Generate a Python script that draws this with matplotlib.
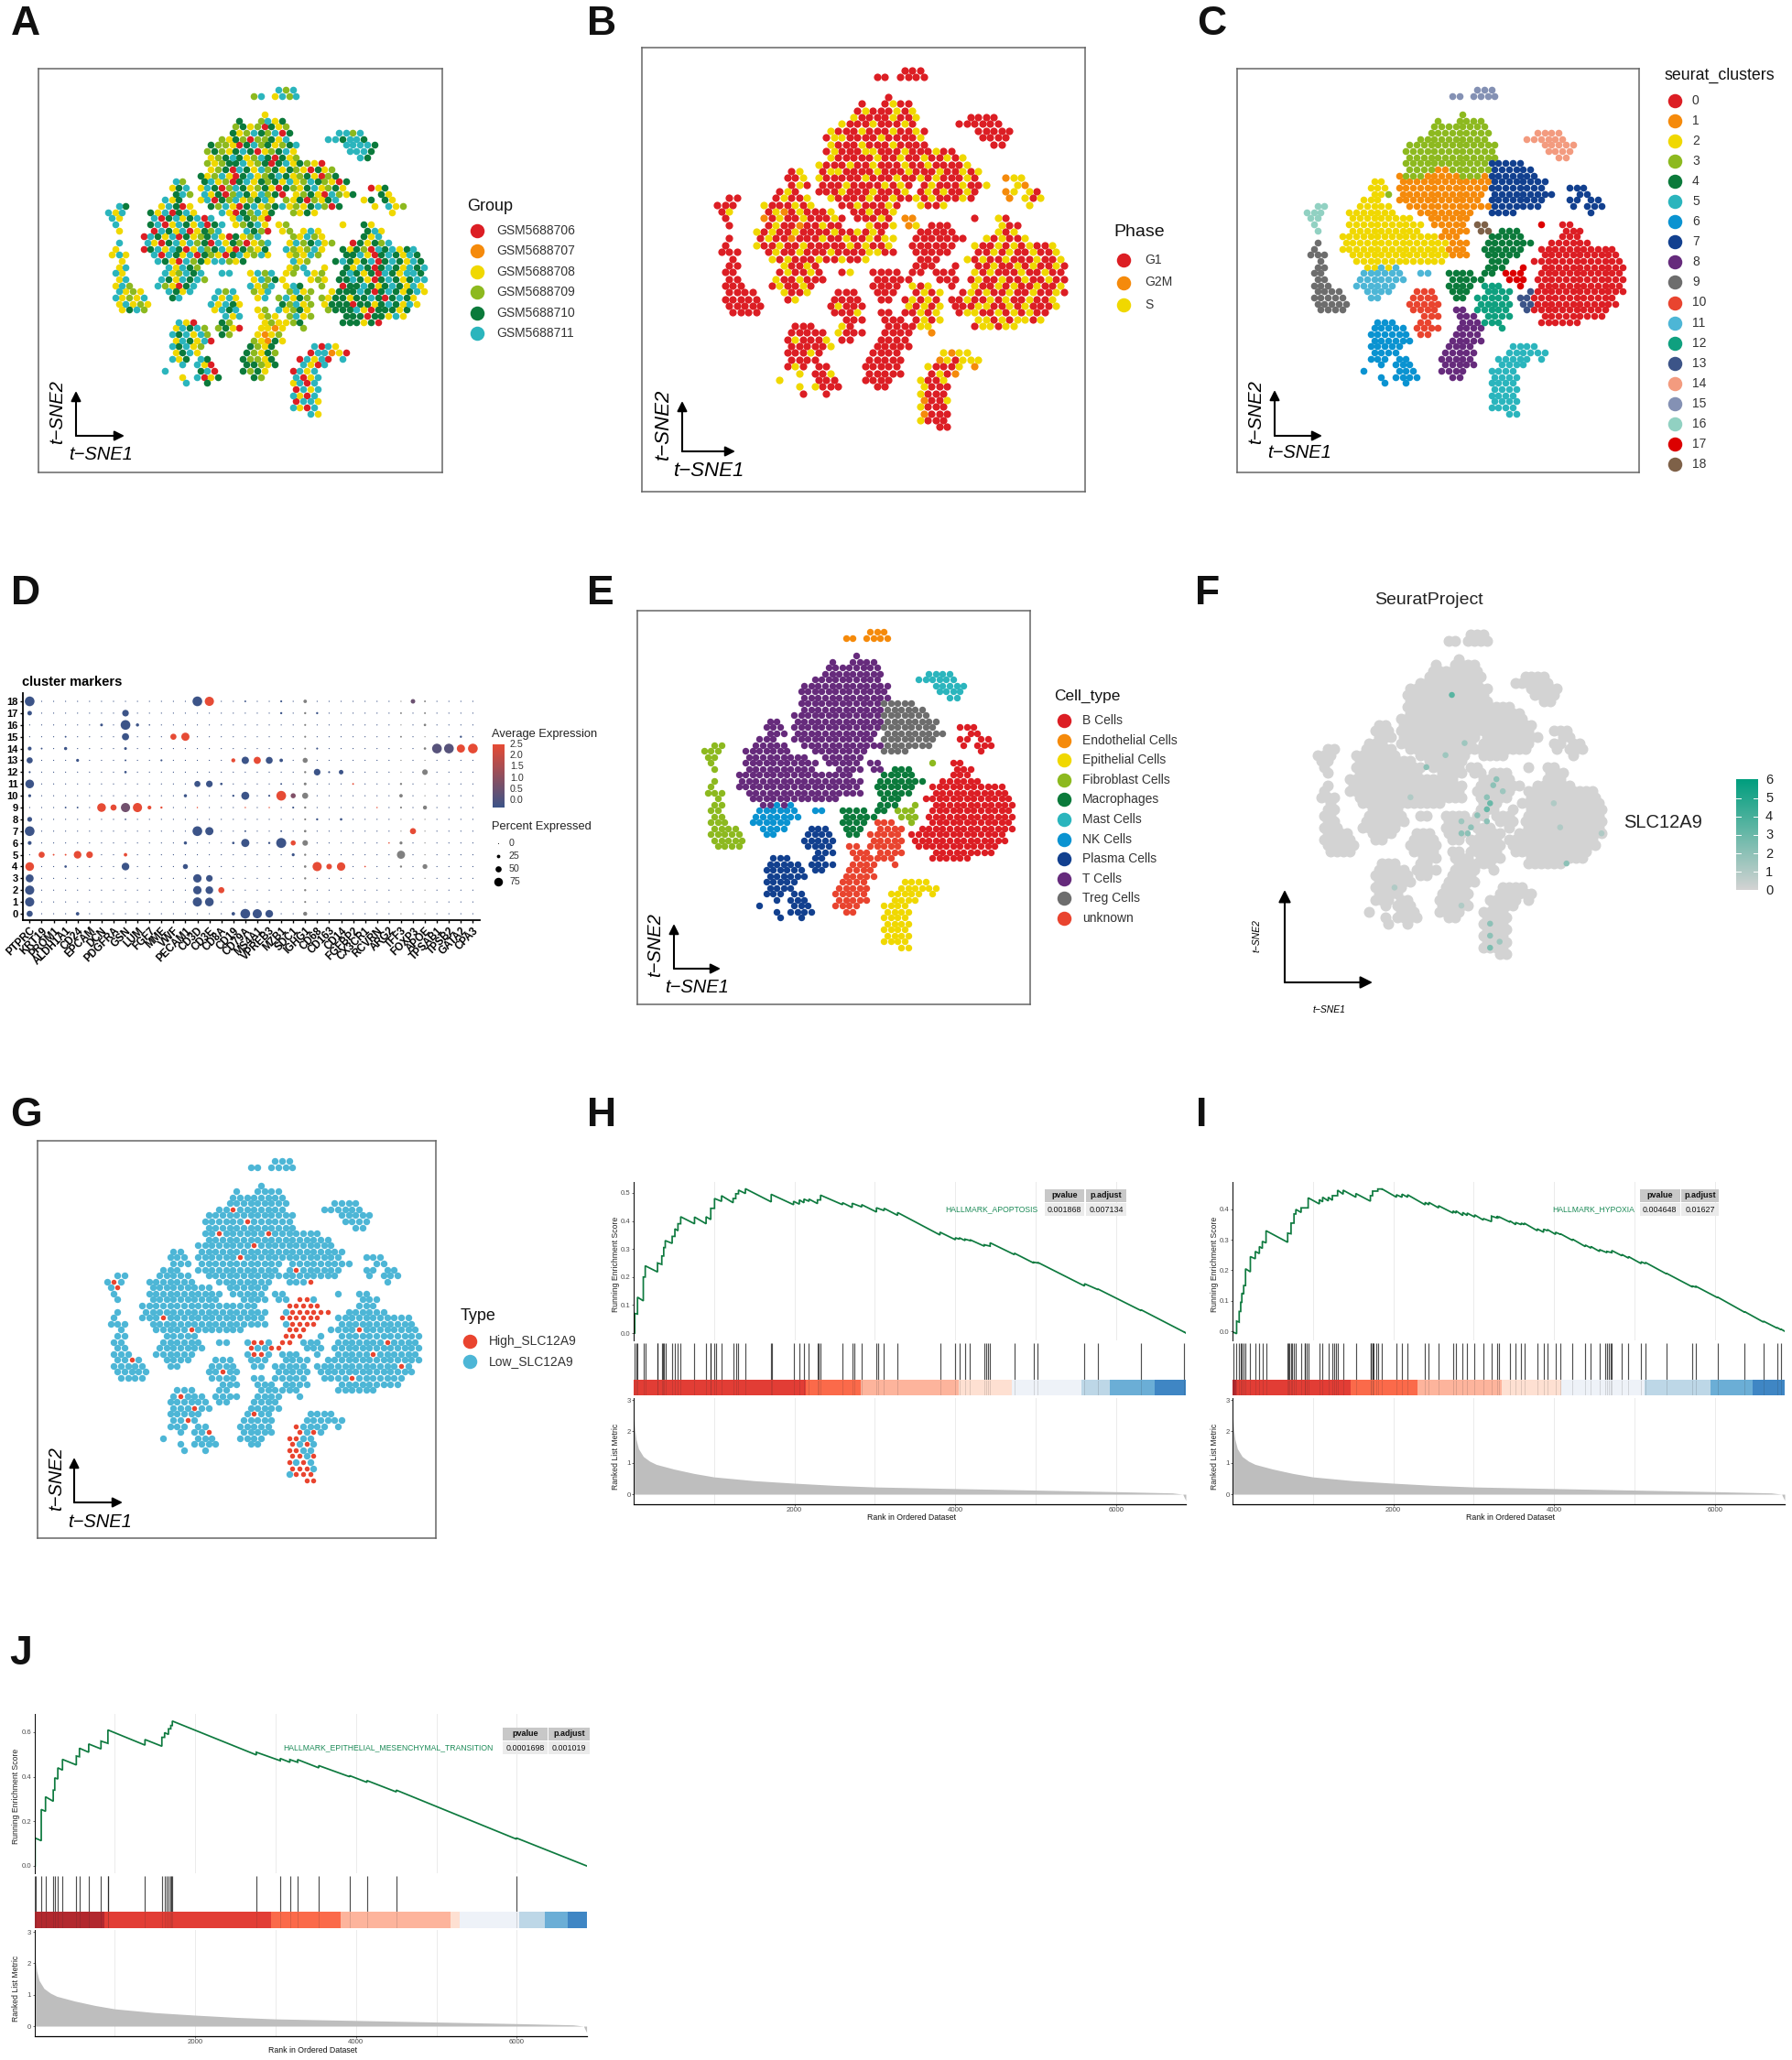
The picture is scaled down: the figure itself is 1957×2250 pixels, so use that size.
import numpy as np
import matplotlib
matplotlib.use("Agg")
import matplotlib.pyplot as plt
from matplotlib.colors import LinearSegmentedColormap
from matplotlib.patches import Rectangle

plt.rcParams["font.family"] = ["Liberation Sans", "DejaVu Sans"]

W, H = 1958, 2250

# t-SNE cells: the thousands of single cells can't be read off the picture,
# so these maps are a coarse hand reading, one character per patch of cells
# 0-9 a-i = seurat cluster, j = 2nd part of cluster 17, k = 2nd part of cluster 7
CLUSTER_MAP = [
    "........................fff",
    "....................ff.ffff",
    "",
    "",
    "......................3",
    "..................3..3333",
    "..................33333333",
    ".................333333333......eeee",
    "................3333333333.....eeeeee",
    "..............3333333333333......eeeee",
    "..............3333333333333.......eeee",
    "..............3333333333333........ee",
    "..............33333333333377777",
    "..............333311333333777777",
    ".............13331111133317777777",
    ".........22..111111111111177777777",
    ".........222.111111111111177777777...kkk",
    ".........223.111111111111.777777777...kk",
    "........222..111111111111.77777777...kk.kk",
    ".gg....22222..1111111111117777777....k.kkk",
    "ggg...2222222...11111111..7777..........k",
    "gg....222222222..111111",
    ".g....22222222222.11111.ii.......h..00",
    ".g....2222222222...1111.ii.444......000",
    ".....22222222222222111....44444.....000",
    ".9...222222222222222111..4444444..000000",
    ".9...222222222222222111..444444..00000000000",
    "999...22222222222222111..44444...00000000000",
    "..9....2222222222222......444...0000000000000",
    ".99.....22b2b............444..j..000000000000",
    ".99.....bbbbbb..bb..4444.44.jjj..000000000000",
    ".99....bbbbbbb......44444...jjj.0000000000000",
    ".999...bbbbbb.......4444.ccc..j..000000000000",
    ".9999...bbbb...aaa..444..cccc..d0000000000000",
    ".99999...bb....aaaa..44.ccccc.dd000000000000",
    ".99999........aaaaa.....ccccc.dd000000000000",
    "..9999.........aaaa..88.ccccc..d00000000000",
    "................aaa..888.cccc....000000000",
    "..........666...aa....888ccc.....000000",
    ".........66666.aaaa..8888..c",
    ".........666666.aa...8888",
    ".........666666.....88888",
    ".........66666......8888.....5555",
    ".........6666......88888....555555",
    ".........666.66....88888...55555.5",
    "..........6.666....88888...5555",
    "........6....666...8888...5555",
    "..........6.6666....88....5555",
    "...........6..6...........5555",
    "..........................5555",
    "..........................5555",
    "..........................5555",
    "..........................5555",
    "............................55",
]

# same layout, sample per patch: r o y l g t = the six GSM samples
GROUP_MAP = [
    (24, "tlt"), (20, "lt.ytlt"), (0, ""), (0, ""), (22, "y"), (18, "g..ltyg"), (18, "lgylrgyl"),
    (17, "gyltgltrg......ttlt"), (16, "lyglrllgyt.....ttgttg"),
    (14, "glly" + "rgtl" + "gylg" + "t......ttttg"),
    (14, "lglygtgrylgty.......tttg"), (14, "ylgtgyltgrgyl........tg"),
    (14, "lylggtylgrgtyglyr"), (14, "ylgrtgytlgyglyrgyl"), (13, "gyltyrgtylgtgylgyrlg"),
    (9, "tl..gtylrgtyglgytyltglyrg"), (9, "ygt.ytgrltgylgyrglygtylgy...ryg"),
    (9, "gtl.tygrltgytlgr.ylgyrtlyg...gy"), (8, "tyg..ytrgltylgty.lygrlygt...yg.gy"),
    (0, ".tg....ytgry..gltyrgtylgtylygtlrg....y.tyl"),
    (0, "tyt...gytrgty...tyrgltyg..lygy..........y"), (0, "ty....trgtygtrt..ytglyr"),
    (0, ".t....gtrytgytrgt.ylgty.yl.......y..gy"), (0, ".y....rtgytryglt...tglr.yl.yty......gty"),
    (5, "rtgytrgylgtyrgylt....lytly.....gyt"),
    (0, ".t...tyrgtytlgrtyglrylt..ytlgtyl..rgyglt"),
    (0, ".y...rgtytgrytlgtyrglyg..tlylty..gyglrtgtygt"),
    (0, "yty...trtgytrglyrgtylty..ylytl...ggtyrgtgytg"),
    (0, "..y....tgyrtlgyttlyg......tyl...gtgygtrgtgytg"),
    (0, ".yt.....tytgl............ylt..y..gytgrgtgytgt"),
    (0, ".ty.....tyltgt..tt..ytlt.yl.tyl..gtgygrtgyttg"),
    (0, ".yt....tgytgtl......ytlgy...yly.ggtgyrgtgygtt"),
    (0, ".ytl...tlyrgt.......tylt.ytg..l..rggtgygtgyty"),
    (0, ".tyly...tgyt...tlt..lyt..ltyl..ygggtgrgtgygty"),
    (0, ".tylyt...gt....tyty..yt.ltygl.lyggyggtgrgtgy"),
    (0, ".ytyly........tytgy.....gltyl.yg" + "ggrggygtgyty"),
    (0, "..ygtl.........ytgt..yl.tylgy..lgggtyrgggyg"),
    (16, "tyt..yly.ltyl....gggrggyty"), (10, "tyr...gl....ylyylg.....gggygr"),
    (9, "ytgtl.lgyr..yyoy..l"), (9, "tgtytl.gl...yoyl"), (9, "ytgytr.....lyogy"),
    (9, "tgtyl......glyg.....trty"), (9, "ygty......glygl....rttoyr"),
    (9, "tyg.tg....gllyg...rtytr.t"), (10, "t.tyr....gglyg...tyrt"),
    (8, "t....gtr...glgy...rtyt"), (10, "y.tryg....gl....tryt"),
    (11, "t..g...........ytrt"), (26, "rtyt"), (26, "tyrt"), (26, "rtty"), (26, "tyrt"), (28, "ty"),
]

# same layout, cell cycle phase per patch: r = G1, o = G2M, y = S
PHASE_MAP = [
    (24, "rrr"), (20, "rr.rrrr"), (0, ""), (0, ""), (22, "r"), (18, "r..ryrr"), (18, "ryrrryry"),
    (17, "yrrrryrry......rrrr"), (16, "yrrryrrryr.....rrrrrr"),
    (14, "yrrryrrryrryr......rrrrr"), (14, "ryyrrrryrrrry.......rrrr"), (14, "yrrryrrryrrrr........rr"),
    (14, "ryrrryyrrryrrryrr"), (14, "yrrrrryrryrryrryry"), (13, "yrrryrryrrryrryrrrry"),
    (9, "ry..ryyrrrryrrryrrryrryry"), (9, "rry.yrrrrryrrryrryryrrryr...oyy"),
    (9, "ryr.rrryrrrryryr.ryrrryrry...yo"), (8, "ryr..rrryrrryrrry.ryryrryr...oy.yr"),
    (0, ".rr....ryrry..yrrrryrryrryryrrryr....o.yry"),
    (0, "rrr...yrrryry...rryrrryr..yrry..........y"), (0, "ry....ryoryrrry..rryrry"),
    (0, ".r....oryrryrrryr.rrryr.oo.......r..yr"), (0, ".r....ryrrorryrr...yrry.oy.rrr......yrr"),
    (5, "yryrryrrrryrryryr....rrrrr.....yry"),
    (0, ".r...ryrrorrryrryrryryy..rrrrrrr..yryrry"),
    (0, ".r...yrryrryrrrrryryrry..rrrrrr..yrryryryrry"),
    (0, "rrr...ryrryrrryrrrryyrr..rrrrr...rryryrryrry"),
    (0, "..r....yryrrryrryrry......rrr...yryrryrrryrry"),
    (0, ".rr.....yrryr............rrr..r..rryrryryrryr"),
    (0, ".rr.....ryrryr..ry..rrrr.rr.rrr..yryrrryrryrr"),
    (0, ".rr....yrryrrr......rrrrr...rrr.ryrryrryrryrr"),
    (0, ".rrr...ryrryr.......rrrr.yry..r..yrryryrryrry"),
    (0, ".rrrr...yrry...rrr..rrr..ryry..ryryrryrryrryr"),
    (0, ".rrrrr...ry....rrrr..rr.ryryr.rryrryryrryrry"),
    (0, ".rrrrr........ryrrr.....yryry.rrryyrryryrrry"),
    (0, "..rrrr.........rrry..rr.rryry..ryyrryryryrr"),
    (16, "rrr..rrr.ryry....yyryryyry"), (10, "rrr...yr....rrrryy.....ryyryy"),
    (9, "rrrrr.yrrr..rrrr..o"), (9, "ryrrry.rr...rrrr"), (9, "rrrrry.....rrrrr"),
    (9, "rrryr......rrrr.....yoyy"), (9, "rrrr......rrrrr....oyryyy"),
    (9, "ryr.rr....rrrrr...yrrry.o"), (10, "y.rry....rrrrr...ryro"),
    (8, "y....rrr...rrrr...yrry"), (10, "y.yrrr....rr....yrrr"),
    (11, "r..r...........yrrr"), (26, "orry"), (26, "yrrr"), (26, "orrr"), (26, "yrrr"), (28, "rr"),
]

# patches that read as High_SLC12A9 in panel G, (row, col) in the maps
HIGH_CELLS = [
    (23, 27), (23, 28), (24, 26), (24, 27), (24, 28), (24, 29), (24, 30), (25, 26), (25, 27), (25, 28),
    (25, 29), (25, 30), (25, 31), (26, 25), (26, 26), (26, 27), (26, 28), (26, 29), (26, 30), (27, 26),
    (27, 27), (27, 28), (27, 29), (28, 26), (28, 27), (28, 28), (29, 25), (29, 26), (29, 27), (30, 25),
    (30, 26), (30, 21), (30, 22), (31, 20), (31, 23), (31, 24), (32, 21), (32, 22), (44, 27), (45, 27),
    (45, 29), (46, 26), (46, 27), (47, 26), (47, 28), (48, 26), (48, 27), (49, 26), (49, 27), (49, 29),
    (50, 26), (50, 28), (51, 26), (51, 27), (51, 28), (52, 27), (52, 28), (52, 29), (53, 28), (53, 29),
    (8, 18), (10, 20), (12, 16), (12, 23), (14, 21), (16, 19), (18, 27), (20, 29), (28, 36), (30, 40),
    (32, 38), (34, 42), (36, 35), (26, 8), (28, 12), (33, 3), (20, 1), (21, 1), (39, 10), (41, 12),
    (43, 11), (45, 14), (35, 16), (42, 21),
]

# patches with SLC12A9 signal in panel F, (row, col, expression)
FEATURE_CELLS = [
    (24, 28, 2), (25, 27, 2), (26, 29, 1.5), (27, 26, 2), (28, 27, 3), (29, 26, 3), (30, 25, 2), (31, 26, 2),
    (32, 24, 2), (33, 23, 2), (31, 22, 1.5), (33, 22, 2), (10, 21, 3.5), (18, 23, 1.5), (20, 20, 1.5),
    (22, 17, 2), (27, 14, 1), (48, 27, 2), (50, 27, 2), (52, 27, 2.5), (51, 28, 1.5), (32, 38, 1),
    (33, 44, 1), (28, 37, 1), (38, 39, 2), (42, 12, 1), (45, 22, 1),
]

CLUSTER_COLORS = ["#DC1E24", "#F58A0B", "#F0D800", "#8DB91F", "#0B7A3B", "#2BB5BD", "#0A93D1", "#12408F",
                  "#662B7C", "#6D6D6D", "#E9442F", "#4DB6D6", "#0FA07F", "#3C5488", "#F39B7F", "#8491B4",
                  "#91D1C2", "#DC0000", "#7E6148"]
CLUSTER_CODES = "0123456789abcdefghi"
CLUSTER_ALIASES = {"j": "h", "k": "7"}

GROUP_NAMES = ["GSM5688706", "GSM5688707", "GSM5688708", "GSM5688709", "GSM5688710", "GSM5688711"]
GROUP_CODES = "roylgt"
GROUP_COLORS = ["#DC1E24", "#F58A0B", "#F0D800", "#8DB91F", "#0B7A3B", "#2BB5BD"]

PHASE_NAMES = ["G1", "G2M", "S"]
PHASE_CODES = "roy"
PHASE_COLORS = ["#DC1E24", "#F58A0B", "#F0D800"]

CELL_TYPES = ["B Cells", "Endothelial Cells", "Epithelial Cells", "Fibroblast Cells", "Macrophages", "Mast Cells",
              "NK Cells", "Plasma Cells", "T Cells", "Treg Cells", "unknown"]
CELL_TYPE_COLORS = ["#DC1E24", "#F58A0B", "#F0D800", "#8DB91F", "#0B7A3B", "#2BB5BD", "#0A93D1", "#12408F",
                    "#662B7C", "#6D6D6D", "#E9442F"]
# cluster code -> index in CELL_TYPES
CELL_TYPE_OF = {"0": 0, "k": 0, "d": 0, "f": 1, "5": 2, "g": 3, "9": 3, "h": 3, "j": 3, "4": 4, "e": 5, "b": 6,
                "6": 7, "a": 7, "1": 8, "2": 8, "3": 8, "i": 8, "7": 9, "8": 10, "c": 10}

TYPE_NAMES = ["High_SLC12A9", "Low_SLC12A9"]
TYPE_COLORS = ["#E9442F", "#4DB6D6"]

# dot plot
GENES = ["PTPRC", "KRT19", "PROM1", "ALDH1A1", "CD24", "EPCAM", "DCN", "PDGFRA", "GSN", "LUM", "FGF7", "MME", "VWF",
         "PECAM1", "CD3D", "CD3E", "CD8A", "CD19", "CD79A", "MS4A1", "VPREB3", "MZB1", "SDC1", "IGHG1", "CD68",
         "CD163", "CD14", "FGFBP2", "CX3CR1", "RCVRN", "ARG2", "TFF3", "FOXP3", "APOE", "TPSAB1", "TPSB2", "GATA2",
         "CPA3"]
# cluster: {gene: (percent expressed, average expression)}, anything else is a tiny dot
DOT_VALUES = {
    18: {"PTPRC": (85, 0), "CD3D": (85, 0), "CD3E": (80, 2.5), "FOXP3": (35, 0.7), "MZB1": (10, 0), "CD79A": (8, 0)},
    17: {"PTPRC": (35, 0), "GSN": (55, 0), "MZB1": (12, 0), "CD68": (12, 0)},
    16: {"DCN": (18, 0), "GSN": (85, 0), "LUM": (22, 0), "FGF7": (5, 0)},
    15: {"GSN": (60, 0), "VWF": (50, 2.5), "PECAM1": (70, 2.5), "GATA2": (12, 0), "ALDH1A1": (8, 0)},
    14: {"PTPRC": (28, 0), "KRT19": (8, 0), "ALDH1A1": (22, 0), "GSN": (18, 0), "CD68": (10, 0), "TPSAB1": (85, 0.4),
         "TPSB2": (85, 0.4), "GATA2": (70, 2.5), "CPA3": (85, 2.5)},
    13: {"PTPRC": (50, 0), "CD24": (20, 0), "GSN": (8, 0), "MME": (10, 0), "CD19": (30, 2.5), "CD79A": (62, 0),
         "MS4A1": (60, 2.5), "VPREB3": (58, 0), "MZB1": (25, 0)},
    12: {"PTPRC": (10, 0), "GSN": (15, 0), "CD68": (55, 0), "CD163": (10, 0), "CD14": (35, 0)},
    11: {"PTPRC": (75, 0), "CD3D": (50, 0), "CD3E": (55, 0), "CD8A": (15, 0), "FGFBP2": (8, 2.5), "MZB1": (8, 0)},
    10: {"PTPRC": (20, 0), "PECAM1": (22, 0), "CD19": (12, 0), "CD79A": (68, 0), "VPREB3": (10, 0), "MZB1": (85, 2.5),
         "SDC1": (40, 1.0)},
    9: {"DCN": (75, 2.5), "PDGFRA": (50, 2.5), "GSN": (80, 0.8), "LUM": (80, 2.5), "FGF7": (28, 2.5), "MME": (12, 2.5),
        "ALDH1A1": (8, 0), "CD24": (8, 0), "SDC1": (10, 0), "CD3D": (4, 2.5), "CD79A": (4, 2.5), "VPREB3": (4, 2.5),
        "RCVRN": (4, 2.5)},
    8: {"PTPRC": (38, 0), "CD68": (12, 0), "CD14": (15, 0), "GSN": (6, 0)},
    7: {"PTPRC": (85, 0), "CD3D": (85, 0), "CD3E": (70, 0), "FOXP3": (50, 2.5), "CD79A": (8, 0), "MZB1": (8, 0)},
    6: {"PTPRC": (28, 0), "PECAM1": (22, 0), "CD19": (15, 0), "CD79A": (70, 0), "VPREB3": (12, 0), "MZB1": (88, 0),
        "SDC1": (40, 2.5), "ARG2": (5, 2.5)},
    5: {"KRT19": (50, 2.5), "PROM1": (8, 2.5), "ALDH1A1": (8, 2.5), "CD24": (65, 2.5), "EPCAM": (55, 2.5),
        "GSN": (25, 2.5), "SDC1": (20, 0)},
    4: {"PTPRC": (75, 2.5), "ALDH1A1": (15, 0), "GSN": (65, 0), "PECAM1": (40, 0), "CD68": (80, 2.5), "CD163": (45, 2.5),
        "CD14": (72, 2.5), "CX3CR1": (6, 2.5)},
    3: {"PTPRC": (68, 0), "CD3D": (72, 0), "CD3E": (55, 0)},
    2: {"PTPRC": (80, 0), "CD3D": (72, 0), "CD3E": (65, 0), "CD8A": (50, 2.5)},
    1: {"PTPRC": (80, 0), "CD3D": (80, 0), "CD3E": (75, 0)},
    0: {"PTPRC": (50, 0), "CD24": (25, 0), "CD19": (25, 0), "CD79A": (85, 0), "MS4A1": (80, 0), "VPREB3": (65, 0)},
}
# IGHG1, TFF3, APOE dots read as grey in the picture: gene -> {cluster: percent}
GREY_DOTS = {
    "IGHG1": {18: 25, 17: 12, 16: 10, 15: 10, 14: 8, 13: 40, 12: 12, 11: 18, 10: 50, 9: 12, 8: 10, 7: 15, 6: 45, 5: 12,
              4: 15, 3: 12, 2: 12, 1: 10, 0: 30},
    "TFF3": {11: 12, 10: 25, 9: 10, 6: 20, 5: 70, 4: 12, 17: 8, 15: 8},
    "APOE": {16: 15, 14: 15, 12: 45, 9: 30, 4: 38, 18: 8, 17: 8},
}
PCT_LEGEND = [0, 25, 50, 75]
EXPR_LEGEND = [2.5, 2.0, 1.5, 1.0, 0.5, 0.0]

# GSEA, each running score entry: (rank of hit, score before hit, score after hit)
ES_APOPTOSIS = [
    (14, 0, .07), (48, .068, .128), (120, .115, .20), (144, .2, .24), (297, .218, .25), (350, .245, .275),
    (374, .275, .305), (393, .305, .33), (479, .32, .345), (513, .345, .372), (551, .365, .39), (585, .39, .415),
    (757, .39, .414), (901, .39, .415), (959, .405, .445), (1006, .445, .48), (1093, .47, .49), (1237, .465, .48),
    (1270, .48, .497), (1304, .497, .51), (1390, .498, .515), (1711, .468, .495), (1989, .458, .47), (2061, .46, .475),
    (2118, .465, .478), (2181, .47, .478), (2286, .462, .475), (2325, .475, .492), (2598, .458, .465), (2718, .448, .463),
    (2837, .45, .458), (3020, .432, .447), (3115, .437, .445), (3283, .42, .43), (3810, .35, .36), (4002, .333, .34),
    (4050, .335, .34), (4122, .33, .335), (4184, .33, .333), (4362, .31, .315), (4434, .31, .322), (4735, .28, .285),
    (4975, .25, .253), (5028, .25, .252), (5608, .168, .176), (5776, .155, .157), (6312, .08, .083), (6845, .004, .005),
]
ES_HYPOXIA = [
    (9, -.003, -.003), (51, -.008, .033), (83, .03, .065), (102, .065, .095), (116, .095, .125), (139, .122, .15),
    (162, .15, .205), (222, .195, .245), (283, .238, .262), (334, .255, .278), (371, .272, .295), (417, .29, .33),
    (686, .292, .322), (728, .32, .355), (765, .355, .385), (788, .385, .4), (853, .39, .405), (941, .405, .438),
    (1080, .418, .432), (1121, .425, .44), (1191, .428, .44), (1242, .43, .445), (1307, .445, .463), (1376, .45, .463),
    (1534, .44, .452), (1715, .427, .445), (1742, .445, .46), (1807, .46, .467), (1854, .467, .468), (2039, .44, .448),
    (2108, .44, .45), (2178, .44, .448), (2396, .415, .423), (2442, .415, .423), (2563, .405, .412), (2743, .388, .395),
    (2780, .388, .395), (2864, .38, .39), (2919, .38, .388), (3012, .375, .382), (3119, .365, .37), (3221, .36, .378),
    (3290, .372, .378), (3313, .372, .376), (3452, .358, .362), (3522, .35, .357), (3591, .35, .355), (3628, .35, .355),
    (3791, .33, .336), (3869, .325, .335), (3916, .33, .334), (4018, .318, .325), (4078, .318, .32), (4231, .298, .302),
    (4388, .278, .283), (4458, .273, .278), (4565, .262, .268), (4657, .258, .262), (4717, .258, .265), (4843, .248, .252),
    (4926, .24, .245), (5083, .222, .228), (5135, .222, .226), (5399, .188, .19), (5723, .145, .148), (5760, .145, .148),
    (6034, .11, .112), (6372, .062, .064), (6604, .03, .033), (6775, .01, .012), (6821, .005, .007),
]
ES_EMT = [
    (10, 0, .125), (86, .113, .253), (139, .245, .31), (235, .29, .34), (254, .34, .395), (292, .39, .44),
    (350, .43, .478), (522, .453, .493), (561, .49, .528), (676, .51, .547), (829, .525, .56), (915, .55, .61),
    (1376, .542, .567), (1586, .537, .577), (1620, .577, .598), (1668, .59, .615), (1697, .615, .63), (1716, .63, .65),
    (2761, .498, .51), (3058, .472, .482), (3178, .465, .477), (3274, .465, .477), (3537, .44, .45), (3921, .4, .405),
    (4136, .375, .383), (4501, .332, .34), (5996, .12, .125),
]
# more barcode lines that don't show as separate steps in the curve
EXTRA_HITS_APOPTOSIS = [30, 300, 365, 960, 1030, 1715, 2300, 2740, 3045, 4390, 4410]
EXTRA_HITS_HYPOXIA = [695, 709, 741, 895, 904, 927, 1260, 1284, 1724, 1738, 1756, 1784, 4640, 4680, 4700]
EXTRA_HITS_EMT = [12, 915, 1640, 1690]

# colour band: upper rank of each segment
BAND_COLORS = ["#B2282E", "#E23D35", "#FB6A4A", "#FDB49C", "#FEE0D2", "#EEF2F8", "#BDD7E7", "#6BAED6", "#3F86C4"]
BAND_ENDS_APOPTOSIS = [0, 2142, 2828, 4040, 4707, 5574, 5919, 6485, 6868]
BAND_ENDS_HYPOXIA = [46, 1474, 2303, 3350, 4092, 5121, 5945, 6465, 6868]
BAND_ENDS_EMT = [868, 2943, 3810, 5172, 5287, 6034, 6351, 6629, 6868]

# ranked list metric, same shape in the three panels
METRIC_RANKS = [0, 15, 30, 60, 120, 200, 280, 500, 750, 1000, 1500, 2000, 2500, 3000, 4000, 5000, 6000, 6700, 6830, 6868]
METRIC_VALUES = [2.6, 2.05, 1.75, 1.45, 1.2, 1.05, 0.95, 0.8, 0.66, 0.55, 0.43, 0.35, 0.28, 0.23, 0.18, 0.13, 0.08, 0.04, 0.0, -0.2]
RANK_MAX = 6868
RANK_TICKS = [2000, 4000, 6000]
RANK_GRID = [1000, 2000, 3000, 4000, 5000, 6000]

fig = plt.figure(figsize=(W / 100, H / 100), dpi=100, facecolor="white")


def ax_px(left, top, right, bottom):
    return fig.add_axes([left / W, 1 - bottom / H, (right - left) / W, (bottom - top) / H])


def dot_s(diameter):
    return (diameter * 0.72) ** 2


def expand(rows):
    return ["." * n + body for n, body in rows]


def cells(rows):
    out = []
    for r, row in enumerate(rows):
        for c, ch in enumerate(row):
            if ch != ".":
                out.append((r, c, ch))
    return out


def map_axes(frame, extent, framed=True):
    # frame and extent of the cell map in pixels
    ax = ax_px(*frame)
    sx = (extent[2] - extent[0]) / 45
    sy = (extent[3] - extent[1]) / 54
    ax.set_xlim(-0.5 - (extent[0] - frame[0]) / sx, -0.5 + (frame[2] - extent[0]) / sx)
    ax.set_ylim(-0.5 + (frame[3] - extent[1]) / sy, -0.5 - (extent[1] - frame[1]) / sy)
    ax.set_xticks([])
    ax.set_yticks([])
    for s in ax.spines.values():
        s.set_color("#666666")
        s.set_linewidth(1.1)
        s.set_visible(framed)
    return ax


def scatter_cells(ax, items, color, d):
    if items:
        xs = [c + 0.5 * (r % 2) for r, c in items]
        ys = [r for r, c in items]
        ax.scatter(xs, ys, s=dot_s(d), c=color, linewidths=0)


def draw_labelled(ax, rows, codes, colors, d, aliases=None):
    table = cells(rows)
    for code, color in zip(codes, colors):
        items = [(r, c) for r, c, ch in table if (aliases or {}).get(ch, ch) == code]
        scatter_cells(ax, items, color, d)


# panel A
ax_a = map_axes((42, 75, 483, 516), (114, 95, 463, 455))
draw_labelled(ax_a, expand(GROUP_MAP), GROUP_CODES, GROUP_COLORS, 7.6)

# panel B
ax_b = map_axes((701, 52, 1185, 537), (779, 73, 1162, 470))
draw_labelled(ax_b, expand(PHASE_MAP), PHASE_CODES, PHASE_COLORS, 8.2)

# panel C
ax_c = map_axes((1351, 75, 1790, 516), (1423, 95, 1772, 455))
draw_labelled(ax_c, CLUSTER_MAP, CLUSTER_CODES, CLUSTER_COLORS, 7.6, CLUSTER_ALIASES)

# panel E
ax_e = map_axes((696, 667, 1125, 1097), (765, 687, 1105, 1038))
all_cells = cells(CLUSTER_MAP)
for i, color in enumerate(CELL_TYPE_COLORS):
    scatter_cells(ax_e, [(r, c) for r, c, ch in all_cells if CELL_TYPE_OF[ch] == i], color, 7.4)

# panel F
ax_f = map_axes((1390, 670, 1780, 1060), (1436, 690, 1749, 1045), framed=False)
scatter_cells(ax_f, [(r, c) for r, c, ch in all_cells], "#D3D3D3", 12)
feature_cmap = LinearSegmentedColormap.from_list("feature", ["#D3D3D3", "#009E7E"])
ax_f.scatter([c + 0.5 * (r % 2) for r, c, v in FEATURE_CELLS], [r for r, c, v in FEATURE_CELLS],
             c=[v for r, c, v in FEATURE_CELLS], cmap=feature_cmap, vmin=0, vmax=6, s=dot_s(6.5), linewidths=0)
cbar_f = ax_px(1896, 851, 1920, 972)
cbar_f.imshow(np.linspace(1, 0, 128).reshape(-1, 1), cmap=feature_cmap, aspect="auto", extent=(0, 1, 0, 6.02))
cbar_f.set_xticks([])
cbar_f.set_yticks([])
for s in cbar_f.spines.values():
    s.set_visible(False)
for v in range(1, 6):
    cbar_f.plot([0, 0.2], [v, v], color="white", lw=0.7)
    cbar_f.plot([0.8, 1], [v, v], color="white", lw=0.7)
cbar_f.set_xlim(0, 1)

# panel G
ax_g = map_axes((41, 1246, 476, 1680), (113, 1265, 457, 1620))
high_set = set(HIGH_CELLS)
scatter_cells(ax_g, [(r, c) for r, c, ch in all_cells if (r, c) not in high_set], TYPE_COLORS[1], 7.4)
scatter_cells(ax_g, [(r, c) for r, c, ch in all_cells if (r, c) in high_set], TYPE_COLORS[0], 5.5)

# panel D
ax_d = ax_px(25, 757, 524, 1005)
ax_d.set_xlim(-0.566, 37.58)
ax_d.set_ylim(-0.54, 18.7)
expr_cmap = LinearSegmentedColormap.from_list("expr", ["#3C5488", "#E64B35"])


def pct_d(p):
    return 1.0 + 0.113 * p


xs, ys, ds, cs = [], [], [], []
for cl in range(19):
    for g, gene in enumerate(GENES):
        if gene in GREY_DOTS:
            pct, col = GREY_DOTS[gene].get(cl, 2), "#808080"
        else:
            pct, val = DOT_VALUES[cl].get(gene, (2, 0))
            col = expr_cmap(val / 2.5)
        xs.append(g)
        ys.append(cl)
        ds.append(dot_s(pct_d(pct)))
        cs.append(col)
ax_d.scatter(xs, ys, s=ds, c=cs, linewidths=0)
ax_d.set_xticks(range(len(GENES)))
ax_d.set_xticklabels(GENES, rotation=45, ha="right", rotation_mode="anchor", fontsize=8.3, fontweight="bold")
ax_d.set_yticks(range(19))
ax_d.set_yticklabels([str(i) for i in range(19)], fontsize=8, fontweight="bold")
ax_d.tick_params(length=2.5, width=1, pad=1.5)
ax_d.spines["top"].set_visible(False)
ax_d.spines["right"].set_visible(False)
ax_d.spines["left"].set_linewidth(1.3)
ax_d.spines["bottom"].set_linewidth(1.3)

cbar_d = ax_px(537.5, 813, 550.5, 882)
cbar_d.imshow(np.linspace(1, 0, 128).reshape(-1, 1), cmap=expr_cmap, aspect="auto")
cbar_d.axis("off")


def draw_gsea(left, right, top0, top1, hit1, band1, low0, low1, es, extra_hits, band_ends, es_lim, es_ticks,
              label_x, xlabel_y):
    # running score
    ax = ax_px(left, top0, right, top1)
    xs = [0]
    ys = [0]
    for rank, low, high in es:
        xs += [rank, rank]
        ys += [low, high]
    xs.append(RANK_MAX)
    ys.append(0)
    for g in RANK_GRID:
        ax.axvline(g, color="#EBEBEB", lw=0.7, zorder=0)
    ax.plot(xs, ys, color="#0E7A3F", lw=1.25, solid_joinstyle="miter")
    ax.set_xlim(0, RANK_MAX)
    ax.set_ylim(*es_lim)
    ax.set_xticks([])
    ax.set_yticks(es_ticks)
    ax.set_yticklabels(["%.1f" % v for v in es_ticks], fontsize=5.6, color="#4D4D4D")
    ax.tick_params(length=1.5, width=0.5, pad=1, color="#333333")
    for name in ["top", "right", "bottom"]:
        ax.spines[name].set_visible(False)
    ax.spines["left"].set_linewidth(0.7)

    # barcode
    hits = [h[0] for h in es] + extra_hits
    ax2 = ax_px(left, top1 + 3, right, hit1)
    ax2.vlines(hits, 0, 1, color="#222222", lw=0.85, alpha=0.8)
    ax2.set_xlim(0, RANK_MAX)
    ax2.set_ylim(0, 1)
    ax2.axis("off")

    # colour band
    ax3 = ax_px(left, hit1, right, band1)
    start = 0
    for end, col in zip(band_ends, BAND_COLORS):
        ax3.axvspan(start, end, color=col, lw=0)
        start = end
    ax3.vlines(hits, 0, 1, color="#222222", lw=0.7, alpha=0.15)
    ax3.set_xlim(0, RANK_MAX)
    ax3.set_ylim(0, 1)
    ax3.axis("off")

    # ranked metric
    ax4 = ax_px(left, low0, right, low1)
    for g in RANK_GRID:
        ax4.axvline(g, color="#EBEBEB", lw=0.7, zorder=0)
    ax4.fill_between(METRIC_RANKS, 0, METRIC_VALUES, color="#BEBEBE", lw=0)
    ax4.set_xlim(0, RANK_MAX)
    ax4.set_ylim(-0.32, 3.06)
    ax4.set_xticks(RANK_TICKS)
    ax4.set_xticklabels([str(t) for t in RANK_TICKS], fontsize=5.6, color="#4D4D4D")
    ax4.set_yticks([0, 1, 2, 3])
    ax4.set_yticklabels(["0", "1", "2", "3"], fontsize=5.6, color="#4D4D4D")
    ax4.tick_params(length=1.5, width=0.5, pad=1, color="#333333")
    for name in ["top", "right"]:
        ax4.spines[name].set_visible(False)
    ax4.spines["left"].set_linewidth(0.7)
    ax4.spines["bottom"].set_linewidth(0.9)

    # labels, in pixels of the whole figure
    over.text(label_x, (top0 + top1) / 2 + 3, "Running Enrichment Score", rotation=90, ha="center", va="center",
              fontsize=6.2, color="#222222")
    over.text(label_x, (low0 + low1) / 2 + 6, "Ranked List Metric", rotation=90, ha="center", va="center",
              fontsize=6.2, color="#222222")
    over.text((left + right) / 2 + 2, xlabel_y, "Rank in Ordered Dataset", ha="center", va="center", fontsize=6.3,
              color="#111111")


def gsea_table(name, pvalue, padjust, x0, x1, x2, x3, y0, text_right, clip_left=None):
    for a, b, head, val in [(x0, x1, "pvalue", pvalue), (x2, x3, "p.adjust", padjust)]:
        over.add_patch(Rectangle((a, y0), b - a, 14, color="#C8C8C8", lw=0))
        over.add_patch(Rectangle((a, y0 + 15), b - a, 13.5, color="#EBEBEB", lw=0))
        over.text((a + b) / 2, y0 + 7, head, ha="center", va="center", fontsize=6.5, fontweight="bold", color="#111111")
        over.text((a + b) / 2, y0 + 22, val, ha="center", va="center", fontsize=6.4, color="#111111")
    t = over.text(text_right, y0 + 22, name, ha="right", va="center", fontsize=6.2, color="#1B8A57")
    if clip_left is not None:
        t.set_clip_path(Rectangle((clip_left, y0), 500, 40, transform=over.transData))
        t.set_clip_on(True)


over = fig.add_axes([0, 0, 1, 1], zorder=10)
over.set_xlim(0, W)
over.set_ylim(H, 0)
over.axis("off")
over.patch.set_alpha(0)

draw_gsea(692, 1295, 1291, 1464, 1507, 1524, 1527, 1643, ES_APOPTOSIS, EXTRA_HITS_APOPTOSIS, BAND_ENDS_APOPTOSIS,
          (-0.026, 0.539), [0, .1, .2, .3, .4, .5], 673, 1658)
draw_gsea(1346, 1949, 1291, 1464, 1507, 1524, 1527, 1643, ES_HYPOXIA, EXTRA_HITS_HYPOXIA, BAND_ENDS_HYPOXIA,
          (-0.03, 0.49), [0, .1, .2, .3, .4], 1327, 1658)
draw_gsea(37.5, 640.6, 1872, 2046, 2088, 2106, 2108, 2224, ES_EMT, EXTRA_HITS_EMT, BAND_ENDS_EMT,
          (-0.033, 0.682), [0, .2, .4, .6], 18, 2239)

gsea_table("HALLMARK_APOPTOSIS", "0.001868", "0.007134", 1140.6, 1184.4, 1186, 1230, 1299, 1134)
gsea_table("HALLMARK_HYPOXIA", "0.004648", "0.01627", 1790.7, 1835, 1836, 1877, 1299, 1785)
gsea_table("HALLMARK_EPITHELIAL_MESENCHYMAL_TRANSITION", "0.0001698", "0.001019", 549, 598, 599, 644, 1887, 539,
           clip_left=305)


def legend(title, names, colors, title_x, title_y, dot_x, first_y, step, text_x, title_size=13, d=15.5):
    over.text(title_x, title_y, title, ha="left", va="center", fontsize=title_size, color="#111111")
    for i, (name, col) in enumerate(zip(names, colors)):
        over.scatter([dot_x], [first_y + i * step], s=dot_s(d), c=col, linewidths=0)
        over.text(text_x, first_y + i * step, name, ha="left", va="center", fontsize=10, color="#333333")


legend("Group", GROUP_NAMES, GROUP_COLORS, 510, 225, 521, 252, 22.4, 542)
legend("Phase", PHASE_NAMES, PHASE_COLORS, 1216, 253, 1227, 284, 24.5, 1250, title_size=14)
legend("seurat_clusters", [str(i) for i in range(19)], CLUSTER_COLORS, 1818, 82, 1829, 110, 22.05, 1848, title_size=12.8)
legend("Cell_type", CELL_TYPES, CELL_TYPE_COLORS, 1151, 760, 1162, 787, 21.6, 1182, title_size=12.5)
legend("Type", TYPE_NAMES, TYPE_COLORS, 503, 1437, 513, 1465, 22, 534, title_size=13)


def tsne_arrows(x0, y0, up, right, lab2_x, lab2_y, lab1_x, lab1_y, size=14.5, scale=16):
    arrow = dict(arrowstyle="-|>", color="black", lw=1.5, shrinkA=0, shrinkB=0, mutation_scale=scale)
    over.annotate("", xy=(x0, up), xytext=(x0, y0), arrowprops=arrow)
    over.annotate("", xy=(right, y0), xytext=(x0, y0), arrowprops=arrow)
    over.text(lab2_x, lab2_y, "t\u2212SNE2", rotation=90, ha="center", va="center", fontsize=size, style="italic")
    over.text(lab1_x, lab1_y, "t\u2212SNE1", ha="center", va="center", fontsize=size, style="italic")


tsne_arrows(83, 476, 427, 136, 63, 450, 110, 497)
tsne_arrows(745, 493, 438, 803, 724, 463, 775, 515, size=16)
tsne_arrows(1392, 476, 426, 1444, 1372, 450, 1419, 495)
tsne_arrows(736, 1058, 1009, 787, 716, 1032, 761, 1078)
tsne_arrows(81, 1641, 1592, 134, 62, 1615, 109, 1662)
tsne_arrows(1403, 1073, 972, 1499, 1373, 1022, 1451, 1103, size=7.5, scale=20)

# panel F texts
over.text(1560, 656, "SeuratProject", ha="center", va="center", fontsize=14, color="#222222")
over.text(1816, 898, "SLC12A9", ha="center", va="center", fontsize=14.5, color="#222222")
for v in range(7):
    over.text(1928, 973 - v * 20.2, str(v), ha="left", va="center", fontsize=10.5, color="#222222")

# panel D texts
over.text(24, 745, "cluster markers", ha="left", va="center", fontsize=10.5, fontweight="bold")
over.text(537, 802, "Average Expression", ha="left", va="center", fontsize=9.3, color="#222222")
for i, v in enumerate(EXPR_LEGEND):
    over.text(557, 813 + i * 12.2, "%.1f" % v, ha="left", va="center", fontsize=7.7, color="#333333")
over.text(537, 903, "Percent Expressed", ha="left", va="center", fontsize=9.3, color="#222222")
for i, p in enumerate(PCT_LEGEND):
    over.scatter([544], [921 + i * 14], s=dot_s(pct_d(p)), c="black", linewidths=0)
    over.text(556, 921 + i * 14, str(p), ha="left", va="center", fontsize=7.7, color="#333333")

# panel letters
PANEL_LETTERS = [("A", 12, 27), ("B", 641, 27), ("C", 1307, 27), ("D", 12, 648), ("E", 641, 648), ("F", 1305, 648),
                 ("G", 11, 1218), ("H", 641, 1218), ("I", 1306, 1218), ("J", 10, 1807)]
for letter, lx, ly in PANEL_LETTERS:
    over.text(lx, ly, letter, ha="left", va="center", fontsize=32, fontweight="bold", color="#111111")

fig.savefig("out.png", dpi=100, facecolor="white")
